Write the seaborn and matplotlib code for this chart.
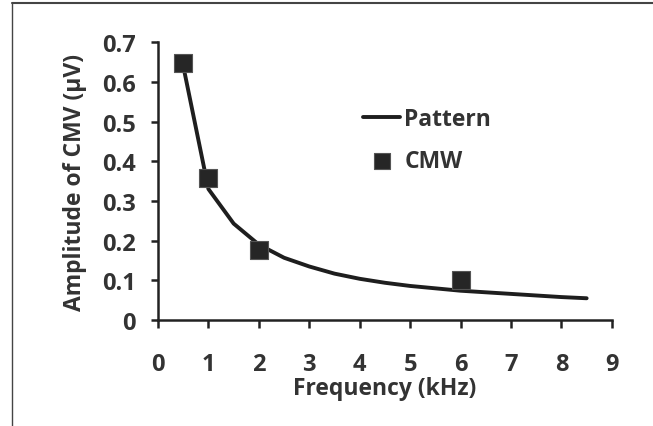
import matplotlib
matplotlib.use("Agg")
import matplotlib.pyplot as plt
from matplotlib.lines import Line2D
import seaborn as sns
import pandas as pd

# Data
pattern_freq = [0.5, 1.0, 1.5, 2.0, 2.5, 3.0, 3.5, 4.0, 4.5, 5.0, 5.5, 6.0, 6.5, 7.0, 7.5, 8.0, 8.5]
pattern_amp = [0.640, 0.330, 0.243, 0.190, 0.157, 0.135, 0.117, 0.104, 0.094, 0.086, 0.080, 0.074, 0.070, 0.066, 0.062, 0.058, 0.055]
cmw_freq = [0.5, 1.0, 2.0, 6.0]
cmw_amp = [0.647, 0.358, 0.176, 0.102]
x_ticks = [0, 1, 2, 3, 4, 5, 6, 7, 8, 9]
y_ticks = [0, 0.1, 0.2, 0.3, 0.4, 0.5, 0.6, 0.7]
y_ticklabels = ["0", "0.1", "0.2", "0.3", "0.4", "0.5", "0.6", "0.7"]

sns.set_style("white")
plt.rcParams['font.family'] = ['Open Sans', 'DejaVu Sans']
plt.rcParams['font.weight'] = 'bold'

text_color = "#333333"
fig = plt.figure(figsize=(6.53, 4.27), dpi=100)
ax = fig.add_axes([0.242, 0.248, 0.695, 0.651])

df_p = pd.DataFrame({"f": pattern_freq, "a": pattern_amp})
df_c = pd.DataFrame({"f": cmw_freq, "a": cmw_amp})

sns.lineplot(data=df_p, x="f", y="a", ax=ax, color="#1e1e1e", linewidth=2.8, label="Pattern")
sns.scatterplot(data=df_c, x="f", y="a", ax=ax, marker="s", s=175, color="#262626",
                edgecolor="#555555", linewidth=0.8, label="CMW", zorder=3)

ax.set_xlim(0, 9)
ax.set_ylim(0, 0.7)
ax.set_xticks(x_ticks)
ax.set_xticklabels([str(t) for t in x_ticks])
ax.set_yticks(y_ticks)
ax.set_yticklabels(y_ticklabels)

for s in ["top", "right"]:
    ax.spines[s].set_visible(False)
for s in ["left", "bottom"]:
    ax.spines[s].set_color("#222222")
    ax.spines[s].set_linewidth(1.8)

ax.tick_params(axis="x", direction="out", length=6, width=1.8, color="#222222",
               pad=17, labelsize=17, labelcolor=text_color, bottom=True)
ax.tick_params(axis="y", direction="out", length=5, width=1.8, color="#222222",
               pad=11, labelsize=17, labelcolor=text_color, left=True)
for lab in ax.get_xticklabels() + ax.get_yticklabels():
    lab.set_fontweight("bold")

ax.set_xlabel("Frequency (kHz)", fontsize=16.5, fontweight="bold", color=text_color, labelpad=0)
ax.set_ylabel("Amplitude of CMV (\u03bcV)", fontsize=16.5, fontweight="bold", color=text_color, labelpad=11)

leg = ax.legend(loc="upper left", bbox_to_anchor=(0.432, 0.80), frameon=False,
                fontsize=16.5, handlelength=1.6, handletextpad=0.2, labelspacing=0.8,
                markerscale=0.85, labelcolor=text_color, borderaxespad=0)
for t in leg.get_texts():
    t.set_fontweight("bold")

# figure frame lines (top and left)
fig.add_artist(Line2D([0.018, 1], [0.991, 0.991], transform=fig.transFigure, color="#444444", linewidth=1.5))
fig.add_artist(Line2D([0.018, 0.018], [0, 0.991], transform=fig.transFigure, color="#444444", linewidth=1.0))

fig.savefig("out.png", dpi=100)
